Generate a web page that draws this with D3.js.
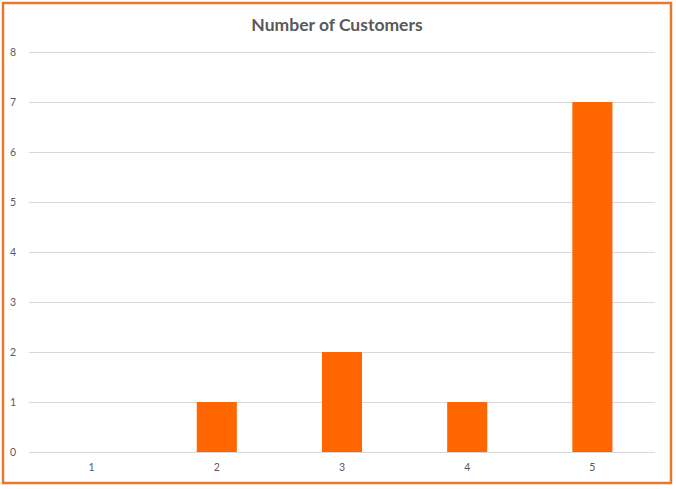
<!DOCTYPE html>
<html>
<head>
<meta charset="utf-8">
<script src="https://cdn.jsdelivr.net/npm/d3@7"></script>
<style>
  body { margin: 0; background: #fff; }
  text { font-family: Lato, "Open Sans", sans-serif; fill: #595959; }
</style>
</head>
<body>
<div id="chart"></div>
<script>
// chart data
const categories = ["1", "2", "3", "4", "5"];
const customers = [0, 1, 2, 1, 7];
const yTicks = [0, 1, 2, 3, 4, 5, 6, 7, 8];
const chartTitle = "Number of Customers";

const width = 676;
const height = 489;
const margin = { top: 52, right: 21, bottom: 37, left: 29 };

const svg = d3.select("#chart")
    .append("svg")
    .attr("width", width)
    .attr("height", height);

// outer orange frame
svg.append("rect")
    .attr("x", 3)
    .attr("y", 3)
    .attr("width", 668)
    .attr("height", 480)
    .attr("fill", "#fff")
    .attr("stroke", "#e8792b")
    .attr("stroke-width", 2.5);

const x = d3.scaleBand()
    .domain(categories)
    .range([margin.left, width - margin.right])
    .paddingInner(0.68)
    .paddingOuter(0.34);

const y = d3.scaleLinear()
    .domain([0, 8])
    .range([height - margin.bottom, margin.top]);

// gridlines
svg.append("g")
    .selectAll("line")
    .data(yTicks)
    .enter().append("line")
    .attr("x1", margin.left)
    .attr("x2", width - margin.right)
    .attr("y1", d => Math.round(y(d)) + 0.5)
    .attr("y2", d => Math.round(y(d)) + 0.5)
    .attr("stroke", "#d9d9d9")
    .attr("stroke-width", 1);

// y labels
svg.append("g")
    .selectAll("text")
    .data(yTicks)
    .enter().append("text")
    .attr("x", 16)
    .attr("y", d => y(d) + 3.5)
    .attr("text-anchor", "end")
    .attr("font-size", 10.5)
    .text(d => d);

// bars
svg.append("g")
    .selectAll("rect")
    .data(customers)
    .enter().append("rect")
    .attr("x", (d, i) => x(categories[i]))
    .attr("y", d => y(d))
    .attr("width", x.bandwidth())
    .attr("height", d => y(0) - y(d))
    .attr("fill", "#ff6600");

// x labels
svg.append("g")
    .selectAll("text")
    .data(categories)
    .enter().append("text")
    .attr("x", d => x(d) + x.bandwidth() / 2)
    .attr("y", height - margin.bottom + 19)
    .attr("text-anchor", "middle")
    .attr("font-size", 10.5)
    .text(d => d);

// title
svg.append("text")
    .attr("x", 337)
    .attr("y", 31)
    .attr("text-anchor", "middle")
    .attr("font-size", 17.5)
    .attr("font-weight", "bold")
    .text(chartTitle);
</script>
</body>
</html>
